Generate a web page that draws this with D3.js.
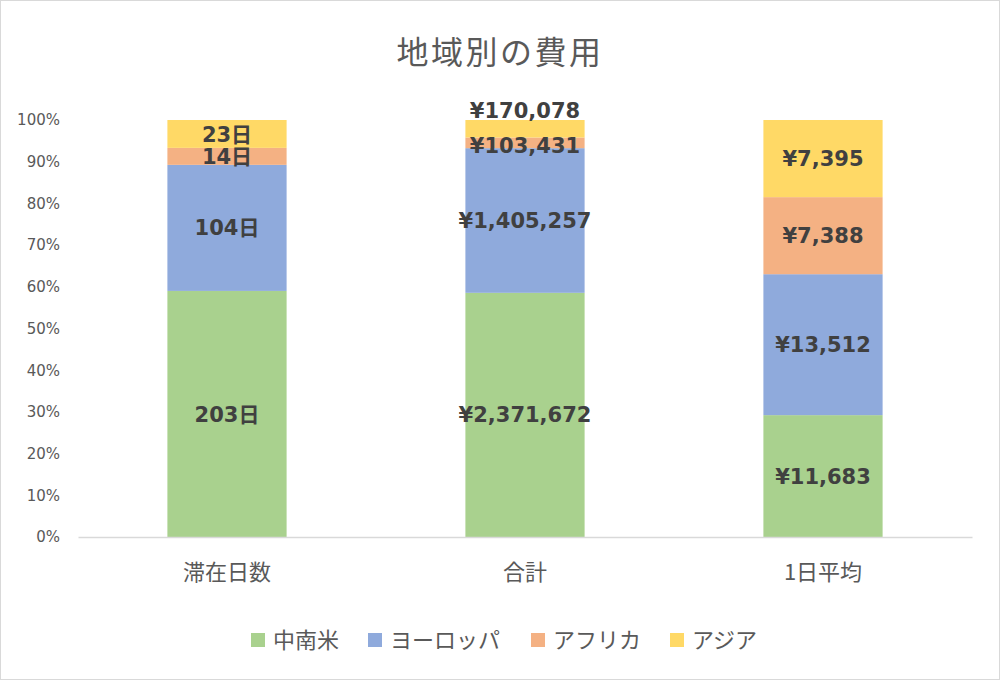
<!DOCTYPE html>
<html><head><meta charset="utf-8">
<script src="https://cdn.jsdelivr.net/npm/d3@7"></script>
<style>
html,body{margin:0;padding:0;background:#fff;}
svg{display:block;}
</style></head>
<body>
<svg id="chart" width="1000" height="680"></svg>
<script>
const title = "地域別の費用";
const categories = ["滞在日数", "合計", "1日平均"];
const seriesNames = ["中南米", "ヨーロッパ", "アフリカ", "アジア"];
const seriesColors = ["#A9D18E", "#8FAADC", "#F4B183", "#FFD966"];
const latinAmerica = [203, 2371672, 11683];
const europe = [104, 1405257, 13512];
const africa = [14, 103431, 7388];
const asia = [23, 170078, 7395];
const labelFormats = [d => d + "日", d => "¥" + d3.format(",")(d), d => "¥" + d3.format(",")(d)];
const yTicks = [0, 0.1, 0.2, 0.3, 0.4, 0.5, 0.6, 0.7, 0.8, 0.9, 1.0];

const seriesValues = [latinAmerica, europe, africa, asia];
const W = 1000, H = 680;
const margin = {left: 78, right: 28, top: 120, bottom: 143};
const svg = d3.select("#chart");

svg.append("rect").attr("x", 0.5).attr("y", 0.5).attr("width", W - 1).attr("height", H - 1)
  .attr("fill", "#fff").attr("stroke", "#d9d9d9").attr("stroke-width", 1);

svg.append("text").attr("x", 500).attr("y", 64).attr("text-anchor", "middle")
  .attr("font-family", "'Noto Sans CJK JP', sans-serif").attr("font-size", 32)
  .attr("letter-spacing", 2.5)
  .attr("fill", "#595959").text(title);

const x = d3.scaleBand().domain(categories).range([margin.left, W - margin.right]).paddingInner(0.6).paddingOuter(0.3);
const y = d3.scaleLinear().domain([0, 1]).range([H - margin.bottom, margin.top]);

const table = categories.map((c, i) => {
  const row = {cat: c};
  seriesNames.forEach((s, j) => row[s] = seriesValues[j][i]);
  return row;
});
const stack = d3.stack().keys(seriesNames).offset(d3.stackOffsetExpand);
const stacked = stack(table);

const yAxis = d3.axisLeft(y).tickValues(yTicks).tickFormat(d3.format(".0%")).tickSize(0).tickPadding(18);
const yg = svg.append("g").attr("transform", `translate(${margin.left},0)`).call(yAxis);
yg.select(".domain").remove();
yg.selectAll("text").attr("font-family", "'DejaVu Sans', sans-serif").attr("font-size", 15).attr("fill", "#595959");

stacked.forEach((layer, j) => {
  svg.append("g").selectAll("rect").data(layer).join("rect")
    .attr("x", d => x(d.data.cat))
    .attr("width", x.bandwidth())
    .attr("y", d => y(d[1]))
    .attr("height", d => y(d[0]) - y(d[1]))
    .attr("fill", seriesColors[j]);
});

const xAxis = d3.axisBottom(x).tickSize(0).tickPadding(24);
const xg = svg.append("g").attr("transform", `translate(0,${y(0)})`).call(xAxis);
xg.select(".domain").attr("stroke", "#d9d9d9").attr("stroke-width", 1.5);
xg.selectAll("text").attr("font-family", "'Noto Sans CJK JP', sans-serif").attr("font-size", 22).attr("fill", "#595959").attr("dy", "0.85em");

const labelFont = "'DejaVu Sans', 'Noto Sans CJK JP', sans-serif";
categories.forEach((c, i) => {
  let prevY = null;
  stacked.forEach((layer, j) => {
    const d = layer[i];
    let cy = (y(d[0]) + y(d[1])) / 2;
    if (prevY !== null && prevY - cy < 20) {
      if (j === stacked.length - 1) cy = y(1) - 10;
      else cy = prevY - 20;
    }
    if (j === stacked.length - 2 && i === 1) cy += 3;
    prevY = cy;
    svg.append("text").attr("x", x(c) + x.bandwidth() / 2).attr("y", cy)
      .attr("dy", "0.36em").attr("text-anchor", "middle")
      .attr("font-family", labelFont).attr("font-size", 21).attr("font-weight", "bold")
      .attr("fill", "#404040").text(labelFormats[i](seriesValues[j][i]));
  });
});

const legendX = [251, 368, 531, 670];
const lg = svg.append("g");
seriesNames.forEach((s, j) => {
  lg.append("rect").attr("x", legendX[j]).attr("y", 633).attr("width", 14).attr("height", 14).attr("fill", seriesColors[j]);
  lg.append("text").attr("x", legendX[j] + 22).attr("y", 640).attr("dy", "0.36em")
    .attr("font-family", "'Noto Sans CJK JP', sans-serif").attr("font-size", 22).attr("fill", "#595959").text(s);
});
</script>
</body></html>
